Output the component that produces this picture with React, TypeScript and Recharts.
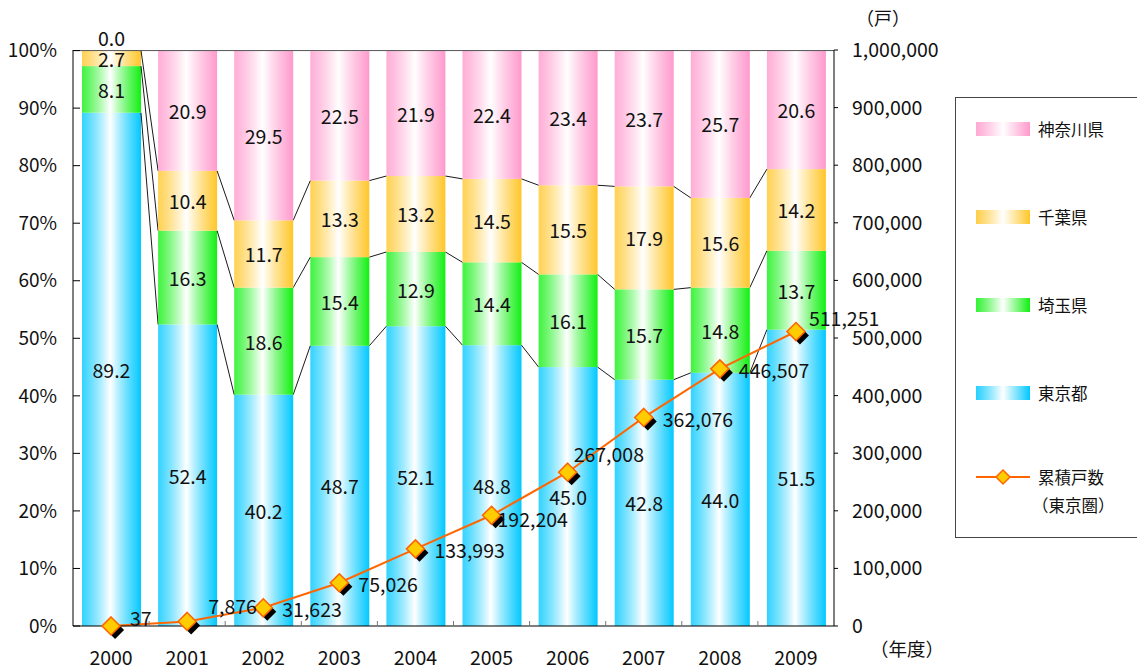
import React from 'react';
import {
  ComposedChart,
  Bar,
  Line,
  XAxis,
  YAxis,
  LabelList,
  ReferenceLine,
} from 'recharts';

const years = ['2000', '2001', '2002', '2003', '2004', '2005', '2006', '2007', '2008', '2009'];
const tokyo = [89.2, 52.4, 40.2, 48.7, 52.1, 48.8, 45.0, 42.8, 44.0, 51.5];
const saitama = [8.1, 16.3, 18.6, 15.4, 12.9, 14.4, 16.1, 15.7, 14.8, 13.7];
const chiba = [2.7, 10.4, 11.7, 13.3, 13.2, 14.5, 15.5, 17.9, 15.6, 14.2];
const kanagawa = [0.0, 20.9, 29.5, 22.5, 21.9, 22.4, 23.4, 23.7, 25.7, 20.6];
const cumulative = [37, 7876, 31623, 75026, 133993, 192204, 267008, 362076, 446507, 511251];

const pctTicks = [0, 10, 20, 30, 40, 50, 60, 70, 80, 90, 100];
const unitTicks = [0, 100000, 200000, 300000, 400000, 500000, 600000, 700000, 800000, 900000, 1000000];

const data = years.map((year, i) => ({
  year,
  tokyo: tokyo[i],
  saitama: saitama[i],
  chiba: chiba[i],
  kanagawa: kanagawa[i],
  cumulative: cumulative[i],
}));

const FONT = '"Noto Sans CJK JP", "Noto Sans", sans-serif';
const NUM_SIZE = 19.5;

const series = [
  { key: 'tokyo', name: '東京都', color: '#00C8FF', grad: 'gTokyo', link: true },
  { key: 'saitama', name: '埼玉県', color: '#10F010', grad: 'gSaitama', link: true },
  { key: 'chiba', name: '千葉県', color: '#FFC629', grad: 'gChiba', link: true },
  { key: 'kanagawa', name: '神奈川県', color: '#FF99CC', grad: 'gKanagawa', link: false },
];

// label nudges for the cumulative line where the default spot collides
const LABEL_NUDGE: Record<string, [number, number]> = {
  '2000': [19, -8],
  '2001': [21, -16],
  '2005': [6, 3],
  '2006': [6, -19],
  '2009': [13, -14],
};

// right edge / top of the previous bar of each series, filled while rendering
const edges: Record<string, { x: number; y: number }[]> = {};

function makeShape(key: string, grad: string, link: boolean) {
  return (props: any) => {
    const { x, y, width, height, index } = props;
    if (!edges[key]) edges[key] = [];
    edges[key][index] = { x: x + width, y };
    const prev = index > 0 ? edges[key][index - 1] : null;
    return (
      <g>
        <rect x={x} y={y} width={width} height={Math.max(height, 0)} fill={`url(#${grad})`} />
        {link && prev && (
          <line x1={prev.x} y1={prev.y} x2={x} y2={y} stroke="#000" strokeWidth={0.9} />
        )}
      </g>
    );
  };
}

const SegmentLabel = (props: any) => {
  const { x, y, width, height, value } = props;
  const cy = height < 1 ? y - 13 : y + height / 2;
  return (
    <text
      x={x + width / 2}
      y={cy}
      textAnchor="middle"
      dominantBaseline="central"
      fontSize={NUM_SIZE}
      fontFamily={FONT}
      fill="#111"
    >
      {Number(value).toFixed(1)}
    </text>
  );
};

const Diamond = (props: any) => {
  const { cx, cy } = props;
  if (cx == null || cy == null) return null;
  const r = 9;
  const pts = (ox: number, oy: number) =>
    `${cx + ox},${cy + oy - r} ${cx + ox + r},${cy + oy} ${cx + ox},${cy + oy + r} ${cx + ox - r},${cy + oy}`;
  return (
    <g>
      <polygon points={pts(4, 4)} fill="#000" />
      <polygon points={pts(0, 0)} fill="#FFCC00" stroke="#FF6600" strokeWidth={1.6} />
    </g>
  );
};

const CumLabel = (props: any) => {
  const { x, y, value, index } = props;
  const [dx, dy] = LABEL_NUDGE[years[index]] || [19, 1];
  return (
    <text
      x={x + dx}
      y={y + dy}
      dominantBaseline="central"
      fontSize={NUM_SIZE}
      fontFamily={FONT}
      fill="#111"
    >
      {Number(value).toLocaleString('en-US')}
    </text>
  );
};

const YearTick = (props: any) => {
  const { x, y, payload, index } = props;
  const half = payload.offset || 0;
  const axisY = y - 8;
  return (
    <g>
      {index > 0 && (
        <line x1={x - half} y1={axisY} x2={x - half} y2={axisY - 5} stroke="#777" strokeWidth={1} />
      )}
      <text x={x} y={axisY + 30} textAnchor="middle" dominantBaseline="central" fontSize={NUM_SIZE} fontFamily={FONT} fill="#111">
        {payload.value}
      </text>
    </g>
  );
};

function Swatch({ grad }: { grad: string }) {
  return (
    <svg width={54} height={14} style={{ display: 'block' }}>
      <rect x={0} y={0} width={54} height={14} fill={`url(#${grad}L)`} />
    </svg>
  );
}

export default function App() {
  const legendRows = [...series].reverse();
  return (
    <div style={{ position: 'absolute', left: 0, top: 0, width: 1137, height: 668, background: '#fff', fontFamily: FONT }}>
      <svg width={0} height={0} style={{ position: 'absolute' }}>
        <defs>
          {series.map((s) => (
            <linearGradient key={s.grad} id={`${s.grad}L`} x1="0" y1="0" x2="1" y2="0">
              <stop offset="0%" stopColor={s.color} stopOpacity={0.85} />
              <stop offset="50%" stopColor="#fff" />
              <stop offset="100%" stopColor={s.color} />
            </linearGradient>
          ))}
        </defs>
      </svg>

      <ComposedChart
        width={1137}
        height={668}
        data={data}
        margin={{ top: 50, right: 0, bottom: 0, left: 0 }}
      >
        <defs>
          {series.map((s) => (
            <linearGradient key={s.grad} id={s.grad} x1="0" y1="0" x2="1" y2="0">
              <stop offset="0%" stopColor={s.color} stopOpacity={0.8} />
              <stop offset="48%" stopColor="#fff" />
              <stop offset="92%" stopColor={s.color} stopOpacity={0.85} />
              <stop offset="100%" stopColor={s.color} />
            </linearGradient>
          ))}
        </defs>
        <XAxis
          dataKey="year"
          height={42}
          axisLine={{ stroke: '#000', strokeWidth: 1.2 }}
          tickLine={false}
          tick={<YearTick />}
          interval={0}
        />
        <YAxis
          yAxisId="left"
          width={73}
          domain={[0, 100]}
          ticks={pctTicks}
          tickFormatter={(v) => `${v}%`}
          axisLine={{ stroke: '#000' }}
          tickLine={{ stroke: '#000' }}
          tickSize={-7}
          tickMargin={23}
          tick={{ fontSize: 19, fill: '#111', fontFamily: FONT }}
          interval={0}
        />
        <YAxis
          yAxisId="right"
          orientation="right"
          width={303}
          domain={[0, 1000000]}
          ticks={unitTicks}
          tickFormatter={(v) => Number(v).toLocaleString('en-US')}
          axisLine={{ stroke: '#000' }}
          tickLine={{ stroke: '#000' }}
          tickSize={4}
          tickMargin={14}
          tick={{ fontSize: NUM_SIZE, fill: '#111', fontFamily: FONT }}
          interval={0}
        />
        <ReferenceLine yAxisId="left" y={100} stroke="#555" strokeWidth={1} />
        {series.map((s) => (
          <Bar
            key={s.key}
            yAxisId="left"
            dataKey={s.key}
            name={s.name}
            stackId="share"
            barSize={59}
            isAnimationActive={false}
            shape={makeShape(s.key, s.grad, s.link)}
          >
            <LabelList dataKey={s.key} content={<SegmentLabel />} />
          </Bar>
        ))}
        <Line
          yAxisId="right"
          dataKey="cumulative"
          name="累積戸数（東京圏）"
          stroke="#FF6600"
          strokeWidth={2}
          dot={<Diamond />}
          activeDot={false}
          isAnimationActive={false}
        >
          <LabelList dataKey="cumulative" content={<CumLabel />} />
        </Line>
        <text x={883} y={17} textAnchor="middle" dominantBaseline="central" fontSize={18} fontFamily={FONT} fill="#111">
          （戸）
        </text>
        <text x={907} y={648} textAnchor="middle" dominantBaseline="central" fontSize={18.5} fontFamily={FONT} fill="#111">
          （年度）
        </text>
      </ComposedChart>

      <div
        style={{
          position: 'absolute',
          left: 955,
          top: 97,
          width: 200,
          height: 441,
          border: '1px solid #444',
          boxSizing: 'border-box',
          fontSize: 16.5,
          color: '#111',
        }}
      >
        {legendRows.map((s, i) => (
          <div
            key={s.key}
            style={{ position: 'absolute', left: 20, top: 20 + i * 88, height: 22, display: 'flex', alignItems: 'center', gap: 8, lineHeight: '22px' }}
          >
            <Swatch grad={s.grad} />
            <span>{s.name}</span>
          </div>
        ))}
        <div style={{ position: 'absolute', left: 20, top: 365, display: 'flex', alignItems: 'flex-start', gap: 8 }}>
          <svg width={54} height={28} style={{ display: 'block' }}>
            <line x1={0} y1={14} x2={54} y2={14} stroke="#FF6600" strokeWidth={2} />
            <polygon points="27,7 34,14 27,21 20,14" fill="#FFCC00" stroke="#FF6600" strokeWidth={1.5} />
          </svg>
          <div style={{ lineHeight: '28px' }}>
            <div>累積戸数</div>
            <div style={{ marginLeft: -6 }}>（東京圏）</div>
          </div>
        </div>
      </div>
    </div>
  );
}
